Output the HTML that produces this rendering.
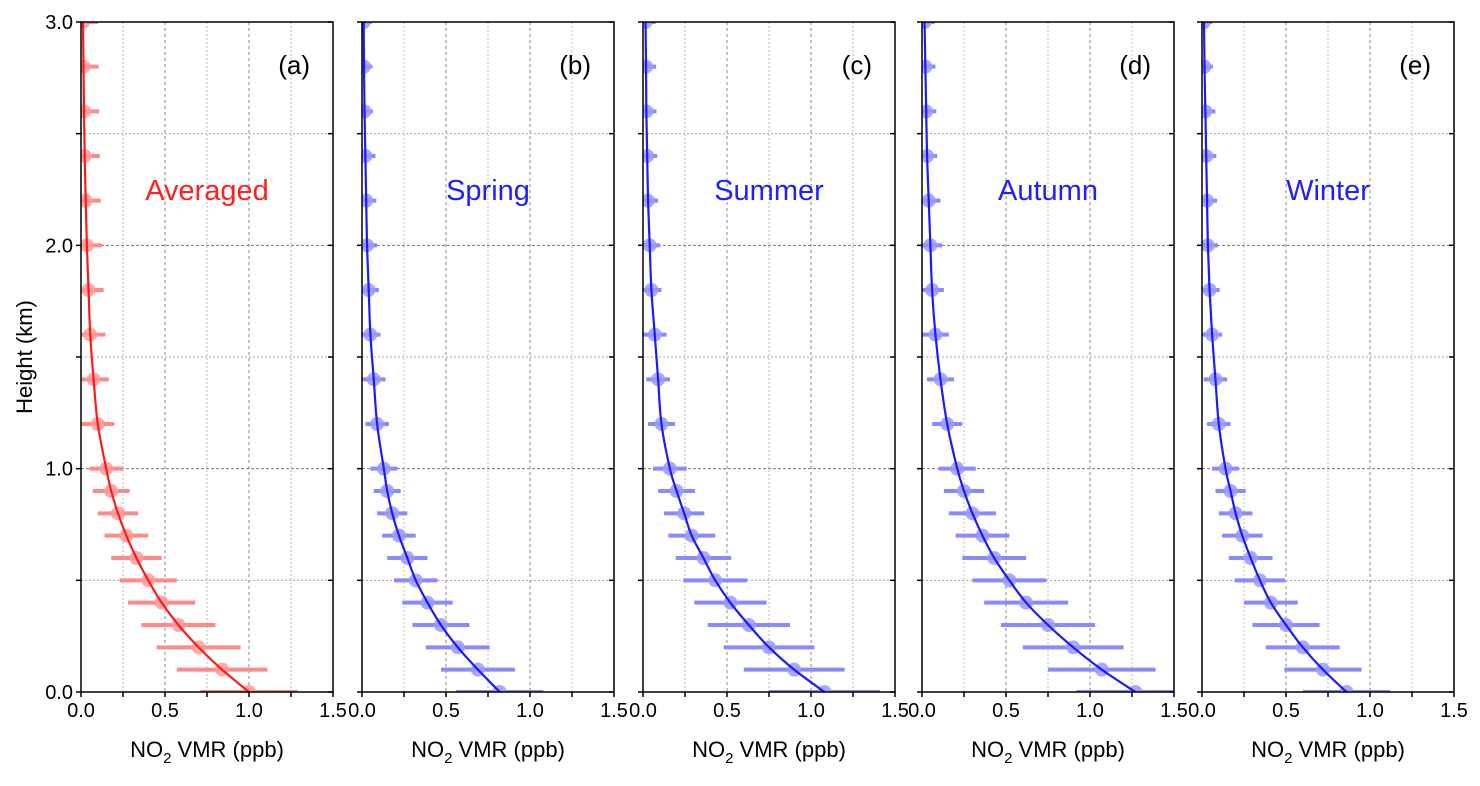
<!DOCTYPE html>
<html><head><meta charset="utf-8"><style>
html,body{margin:0;padding:0;background:#fff;}
svg text{font-family:"Liberation Sans","DejaVu Sans",sans-serif;}
</style></head><body>
<svg id="chart" width="1480" height="781" viewBox="0 0 1480 781" xmlns="http://www.w3.org/2000/svg"></svg>
<script>
const heights=[0,0.1,0.2,0.3,0.4,0.5,0.6,0.7,0.8,0.9,1.0,1.2,1.4,1.6,1.8,2.0,2.2,2.4,2.6,2.8,3.0];
const avgVals=[1.00,0.84,0.70,0.58,0.48,0.40,0.33,0.27,0.22,0.18,0.15,0.10,0.075,0.055,0.045,0.035,0.028,0.022,0.018,0.015,0.012];
const avgErr=[0.29,0.27,0.25,0.22,0.20,0.17,0.15,0.13,0.12,0.11,0.10,0.10,0.09,0.09,0.09,0.09,0.09,0.09,0.09,0.09,0.09];
const springVals=[0.82,0.69,0.57,0.47,0.39,0.32,0.27,0.22,0.18,0.15,0.13,0.09,0.07,0.05,0.04,0.03,0.025,0.02,0.015,0.012,0.01];
const springErr=[0.26,0.22,0.19,0.17,0.15,0.13,0.12,0.10,0.09,0.08,0.08,0.07,0.07,0.06,0.06,0.06,0.06,0.06,0.05,0.05,0.05];
const summerVals=[1.08,0.90,0.75,0.63,0.52,0.43,0.36,0.29,0.245,0.20,0.16,0.11,0.09,0.07,0.05,0.04,0.03,0.025,0.02,0.018,0.015];
const summerErr=[0.33,0.30,0.27,0.245,0.215,0.19,0.165,0.14,0.12,0.11,0.10,0.08,0.07,0.07,0.06,0.06,0.06,0.06,0.06,0.06,0.06];
const autumnVals=[1.27,1.07,0.90,0.75,0.62,0.52,0.43,0.36,0.30,0.25,0.21,0.15,0.11,0.08,0.06,0.05,0.04,0.03,0.025,0.02,0.015];
const autumnErr=[0.35,0.32,0.30,0.28,0.25,0.22,0.19,0.16,0.14,0.12,0.11,0.09,0.08,0.08,0.07,0.07,0.07,0.06,0.06,0.06,0.06];
const winterVals=[0.86,0.72,0.60,0.50,0.41,0.345,0.29,0.24,0.20,0.17,0.14,0.10,0.08,0.06,0.045,0.035,0.03,0.025,0.02,0.015,0.012];
const winterErr=[0.26,0.23,0.22,0.20,0.16,0.15,0.13,0.12,0.10,0.09,0.08,0.07,0.07,0.06,0.06,0.06,0.06,0.06,0.06,0.05,0.05];
const xTickLabels=["0.0","0.5","1.0","1.5"];
const yTickLabels=["0.0","1.0","2.0","3.0"];
const panelLetters=["(a)","(b)","(c)","(d)","(e)"];
const panelTitles=["Averaged","Spring","Summer","Autumn","Winter"];

const NS="http://www.w3.org/2000/svg";
const svg=document.getElementById('chart');
function mk(tag,attrs,parent){const e=document.createElementNS(NS,tag);for(const k in attrs)e.setAttribute(k,attrs[k]);(parent||svg).appendChild(e);return e;}
const lefts=[81,362,643,922,1202];
const W=252, TOP=22, BOT=692, XMAX=1.5, YMAX=3.0;
const yS=h=>BOT-(h/YMAX)*(BOT-TOP);
const series=[[avgVals,avgErr],[springVals,springErr],[summerVals,summerErr],[autumnVals,autumnErr],[winterVals,winterErr]];
const names=['averaged','spring','summer','autumn','winter'];
const defs=mk('defs',{});
lefts.forEach((L,i)=>{
  const xS=v=>L+(v/XMAX)*W;
  const cp=mk('clipPath',{id:'clip'+i},defs);
  mk('rect',{x:L,y:TOP,width:W,height:BOT-TOP},cp);
  const g=mk('g',{});
  
  
  [0.25,0.5,0.75,1.0,1.25].forEach(v=>{
    const major=(v===0.5||v===1.0);
    const l=mk('line',{x1:xS(v),x2:xS(v),y1:TOP,y2:BOT,stroke:major?'#888':'#bbb','stroke-width':1,'stroke-dasharray':major?'3,3':'2,2'},g);
    
    
  });
  [0.5,1.0,1.5,2.0,2.5].forEach(h=>{
    const major=(h===1.0||h===2.0);
    const l=mk('line',{x1:L,x2:L+W,y1:yS(h),y2:yS(h),stroke:major?'#777':'#aaa','stroke-width':1,'stroke-dasharray':major?'3,2':'2,2'},g);
    
    
  });
  const [vals,errs]=series[i];
  const red=i===0;
  const ebC=red?'#ff8a8a':'#8a8aff', dotC=red?'#ff9a9a':'#9a9aff', lineC=red?'#ff1a1a':'#1a1aff';
  const cg=mk('g',{'clip-path':'url(#clip'+i+')'},g);
  heights.forEach((h,k)=>{
    const eb=mk('line',{x1:xS(Math.max(0,vals[k]-errs[k])),x2:xS(vals[k]+errs[k]),y1:yS(h),y2:yS(h),stroke:ebC,'stroke-width':4},cg);
    
    
    const c=mk('circle',{cx:xS(vals[k]),cy:yS(h),r:7,fill:dotC,'fill-opacity':0.85},cg);
    
    
  });
  const pts=heights.map((h,k)=>[xS(vals[k]),yS(h)]);
  let d='M'+pts[0][0]+','+pts[0][1];
  for(let k=0;k<pts.length-1;k++){
    const p0=pts[Math.max(0,k-1)],p1=pts[k],p2=pts[k+1],p3=pts[Math.min(pts.length-1,k+2)];
    const c1=[p1[0]+(p2[0]-p0[0])/6,p1[1]+(p2[1]-p0[1])/6],c2=[p2[0]-(p3[0]-p1[0])/6,p2[1]-(p3[1]-p1[1])/6];
    d+=' C'+c1+' '+c2+' '+p2;
  }
  const ln=mk('path',{d:d,fill:'none',stroke:lineC,'stroke-width':2.2},cg);
  
  
  const fr=mk('rect',{x:L,y:TOP,width:W,height:BOT-TOP,fill:'none',stroke:'#000','stroke-width':1.5},g);
  
  
  for(let v=0;v<=1.5001;v+=0.25){mk('line',{x1:xS(v),x2:xS(v),y1:BOT,y2:BOT+5,stroke:'#000','stroke-width':1.5},g);}
  for(let h=0;h<=3.001;h+=0.5){mk('line',{x1:L-5,x2:L,y1:yS(h),y2:yS(h),stroke:'#000','stroke-width':1.5},g);mk('line',{x1:L+W-5,x2:L+W,y1:yS(h),y2:yS(h),stroke:'#000','stroke-width':1.5},g);}
  xTickLabels.forEach((t,k)=>{
    const tx=mk('text',{x:xS(k*0.5),y:BOT+25,'font-size':20,'text-anchor':'middle',fill:'#000'},g);
    tx.textContent=t;
    
    
  });
  const xl=mk('text',{x:L+W/2,y:757,'font-size':22,'text-anchor':'middle',fill:'#000'},g);
  xl.innerHTML='NO<tspan font-size="15" dy="6">2</tspan><tspan dy="-6"> VMR (ppb)</tspan>';
  
  
  const pl=mk('text',{x:L+W-23,y:74,'font-size':26,'text-anchor':'end',fill:'#000'},g);
  pl.textContent=panelLetters[i];
  
  
  const pt=mk('text',{x:L+W/2,y:200,'font-size':29,'text-anchor':'middle',fill:red?'#ff2020':'#2020ff'},g);
  pt.textContent=panelTitles[i];
  
  
});
yTickLabels.forEach((t,k)=>{
  const tx=mk('text',{x:73,y:yS(k)+7,'font-size':20,'text-anchor':'end',fill:'#000'});
  tx.textContent=t;
  
  
});
const yt=mk('text',{x:32,y:357,'font-size':22,'text-anchor':'middle',fill:'#000',transform:'rotate(-90 32 357)'});
yt.textContent='Height (km)';


</script>
</body></html>
